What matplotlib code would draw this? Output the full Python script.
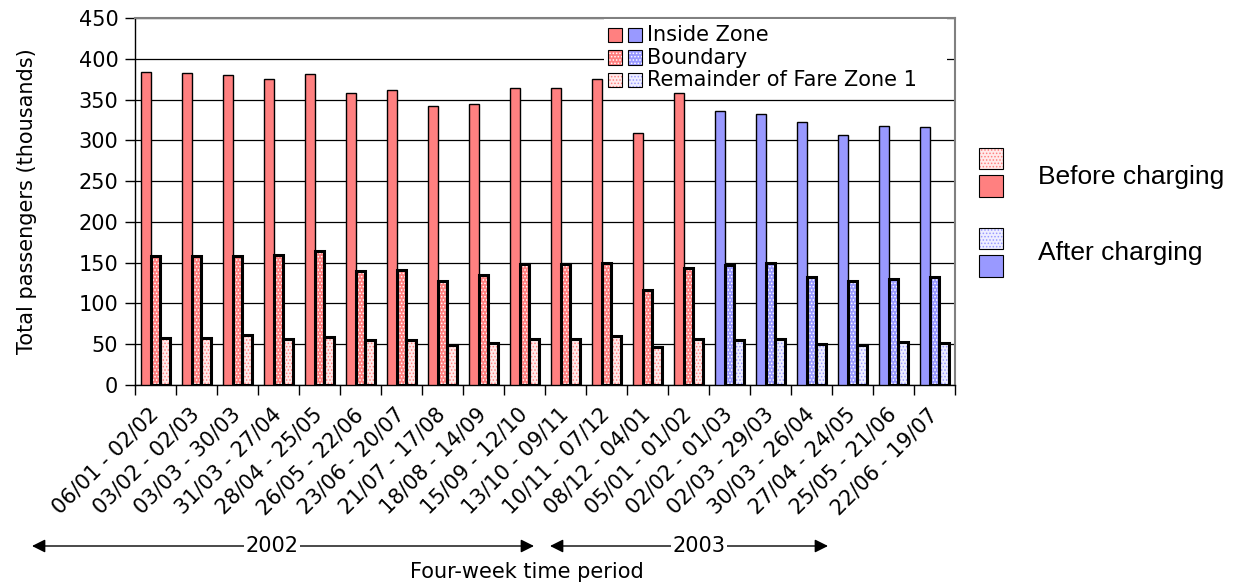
import matplotlib.pyplot as plt
from matplotlib.patches import Rectangle, FancyArrowPatch
from matplotlib.transforms import ScaledTranslation
import numpy as np

plt.rcParams['font.family'] = 'DejaVu Sans'
plt.rcParams['hatch.linewidth'] = 0.7

# four-week periods
periods = ["06/01 - 02/02", "03/02 - 02/03", "03/03 - 30/03", "31/03 - 27/04",
           "28/04 - 25/05", "26/05 - 22/06", "23/06 - 20/07", "21/07 - 17/08",
           "18/08 - 14/09", "15/09 - 12/10", "13/10 - 09/11", "10/11 - 07/12",
           "08/12 - 04/01", "05/01 - 01/02", "02/02 - 01/03", "02/03 - 29/03",
           "30/03 - 26/04", "27/04 - 24/05", "25/05 - 21/06", "22/06 - 19/07"]
n_before = 14   # periods before congestion charging

inside = [384, 382, 380, 375, 381, 358, 362, 342, 345, 364, 364, 375, 309, 358,
          336, 332, 322, 307, 317, 316]
boundary = [158, 158, 158, 159, 164, 140, 141, 128, 135, 148, 148, 149, 117, 144,
            147, 150, 133, 127, 130, 132]
remainder = [58, 58, 61, 56, 59, 55, 55, 49, 52, 57, 56, 60, 46, 56,
             55, 56, 50, 49, 53, 51]

RED = "#ff8080"
BLUE = "#9999ff"
LRED = "#ffeaea"
LBLUE = "#eeeeff"
HB = "....."
FS = 15

W, H = 1234, 586
fig = plt.figure(figsize=(W / 100, H / 100), dpi=100)
ax = fig.add_axes([135 / W, 1 - 385 / H, 820 / W, 367 / H])

x = np.arange(len(periods))
cols = [RED if i < n_before else BLUE for i in range(len(periods))]
lcols = [LRED if i < n_before else LBLUE for i in range(len(periods))]
bw = 0.23


def hbar(xpos, val, fc, hc, lw):
    # hatched fill drawn first, black outline on top
    ax.bar(xpos, val, bw, color=fc, hatch=HB, edgecolor=hc, linewidth=0, zorder=3)
    ax.bar(xpos, val, bw, fill=False, edgecolor="black", linewidth=lw, zorder=4)


ax.bar(x - bw, inside, bw, color=cols, edgecolor="black", linewidth=1.0, zorder=3)
for i in range(len(x)):
    hbar(x[i], boundary[i], cols[i], "white", 2.2)
    hbar(x[i] + bw, remainder[i], lcols[i], cols[i], 2.2)

ax.set_xlim(-0.5, len(periods) - 0.5)
ax.set_ylim(0, 450)
ax.set_yticks(range(0, 451, 50))
ax.tick_params(axis="y", labelsize=FS, length=7, direction="out", width=1, pad=5)
ax.set_xticks(x)
ax.set_xticklabels(periods, rotation=45, ha="right", va="top",
                   rotation_mode="anchor", fontsize=FS)
ax.tick_params(axis="x", which="major", length=0, pad=14)
shift = ScaledTranslation(-0.07, 0, fig.dpi_scale_trans)
for lab in ax.get_xticklabels():
    lab.set_transform(lab.get_transform() + shift)
ax.set_xticks(np.arange(-0.5, len(periods), 1), minor=True)
ax.tick_params(axis="x", which="minor", length=7, width=1)
ax.grid(axis="y", color="black", linewidth=0.9, zorder=1)
ax.set_axisbelow(True)
for s in ["top", "right"]:
    ax.spines[s].set_color("#808080")
    ax.spines[s].set_linewidth(1.5)
ax.spines["left"].set_linewidth(1)
ax.spines["bottom"].set_linewidth(1)
ax.set_ylabel("Total passengers (thousands)", fontsize=FS, labelpad=30)


def px(xp, yp):
    return xp / W, 1 - yp / H


def swatch(xp, yp, w, h, fc, hc=None, lw=0.8):
    x0, y0 = px(xp, yp + h)
    if hc is not None:
        fig.add_artist(Rectangle((x0, y0), w / W, h / H, transform=fig.transFigure,
                                 facecolor=fc, hatch=HB, edgecolor=hc,
                                 linewidth=0, zorder=10))
        fig.add_artist(Rectangle((x0, y0), w / W, h / H, transform=fig.transFigure,
                                 fill=False, edgecolor="black", linewidth=lw, zorder=11))
    else:
        fig.add_artist(Rectangle((x0, y0), w / W, h / H, transform=fig.transFigure,
                                 facecolor=fc, edgecolor="black", linewidth=lw, zorder=10))


# series legend inside the plot
x0, y0 = px(604, 92)
fig.add_artist(Rectangle((x0, y0), 343 / W, 73 / H, transform=fig.transFigure,
                         facecolor="white", edgecolor="none", zorder=9))
leg_rows = ["Inside Zone", "Boundary", "Remainder of Fare Zone 1"]
for k, lab in enumerate(leg_rows):
    yy = 28 + 22.5 * k
    if k == 0:
        swatch(608, yy, 14, 14, RED)
        swatch(628, yy, 14, 14, BLUE)
    elif k == 1:
        swatch(608, yy, 14, 14, RED, "white")
        swatch(628, yy, 14, 14, BLUE, "white")
    else:
        swatch(608, yy, 14, 14, LRED, RED)
        swatch(628, yy, 14, 14, LBLUE, BLUE)
    fig.text(*px(647, yy + 7), lab, fontsize=FS, va="center", ha="left", zorder=12)

# before / after legend
swatch(979, 148, 24, 21, LRED, RED)
swatch(979, 175, 24, 22, RED)
swatch(979, 228, 24, 21, LBLUE, BLUE)
swatch(979, 255, 24, 22, BLUE)
fig.text(*px(1038, 177), "Before charging", fontsize=19, va="center", ha="left",
         family="Liberation Sans")
fig.text(*px(1038, 253), "After charging", fontsize=19, va="center", ha="left",
         family="Liberation Sans")

# year arrows
for (xa, xb, xt, lab) in [(32, 534, 272, "2002"), (550, 828, 699, "2003")]:
    fig.add_artist(FancyArrowPatch(
        px(xa, 546), px(xb, 546), transform=fig.transFigure,
        arrowstyle="<|-|>,head_length=8,head_width=4", mutation_scale=1,
        color="black", linewidth=1, shrinkA=0, shrinkB=0))
    fig.text(*px(xt, 546), lab, fontsize=FS, ha="center", va="center",
             bbox=dict(facecolor="white", edgecolor="none", pad=1))

fig.text(*px(527, 572), "Four-week time period", fontsize=FS, ha="center", va="center")

fig.savefig("out.png", dpi=100)
